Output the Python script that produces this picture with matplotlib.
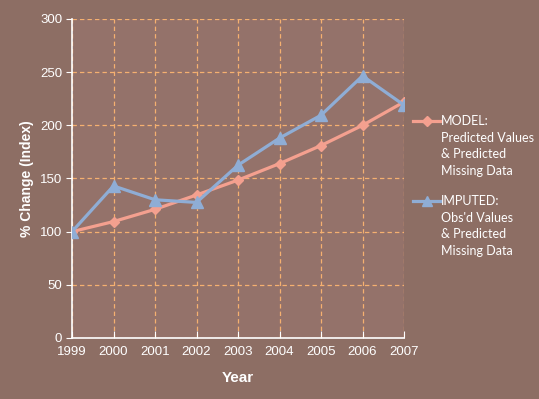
import matplotlib.pyplot as plt
from matplotlib.lines import Line2D

# datos
anios = [1999, 2000, 2001, 2002, 2003, 2004, 2005, 2006, 2007]
modelo = [100, 109.5, 121, 134.5, 148.5, 164, 181, 200, 222]
imputado = [100, 143, 130, 127.5, 162.5, 188, 209.5, 246.5, 219]
etiqueta_modelo = ["MODEL:", "Predicted Values", "& Predicted", "Missing Data"]
etiqueta_imputado = ["IMPUTED:", "Obs'd Values", "& Predicted", "Missing Data"]

fondo = '#8D6E64'
fondo_ejes = '#94726A'
col_modelo = '#F4A08F'
col_imputado = '#8FADD5'
col_rejilla = '#F5B070'

W, H = 539, 399
fig = plt.figure(figsize=(W / 100, H / 100), dpi=100, facecolor=fondo)
ax = fig.add_axes([72 / W, (H - 338) / H, (404 - 72) / W, (338 - 19) / H])
ax.set_facecolor(fondo_ejes)

ax.plot(anios, modelo, color=col_modelo, lw=2.3, marker='D', ms=5.5, zorder=3)
ax.plot(anios, imputado, color=col_imputado, lw=2.3, marker='^', ms=8, zorder=4)

ax.set_xlim(1999, 2007)
ax.set_ylim(0, 300)
ax.set_xticks(anios)
ax.set_yticks(range(0, 301, 50))
ax.grid(True, color=col_rejilla, ls=(0, (3.5, 2.5)), lw=0.9)
ax.set_axisbelow(True)

for s in ['top', 'right']:
    ax.spines[s].set_visible(False)
for s in ['left', 'bottom']:
    ax.spines[s].set_color('white')
    ax.spines[s].set_linewidth(1.2)

fuente = 'Liberation Sans'
ax.tick_params(axis='x', direction='in', length=5, color='white', colors='white', pad=6)
ax.tick_params(axis='y', direction='out', length=4, color='white', colors='white', pad=3)
for t in ax.get_xticklabels() + ax.get_yticklabels():
    t.set_fontfamily(fuente)
    t.set_fontsize(9.5)
    t.set_color('white')

ax.set_xlabel('Year', fontfamily=fuente, fontsize=11, fontweight='bold', color='white', labelpad=9)
ax.set_ylabel('% Change (Index)', fontfamily=fuente, fontsize=10, fontweight='bold', color='white', labelpad=4)

# leyenda a mano
def entrada(y0, lineas, color, marcador, tam):
    fig.add_artist(Line2D([413 / W, 440 / W], [(H - y0) / H] * 2, color=color, lw=2.3,
                          transform=fig.transFigure))
    fig.add_artist(Line2D([426.5 / W], [(H - y0) / H], color=color, marker=marcador, ms=tam,
                          transform=fig.transFigure))
    for i, txt in enumerate(lineas):
        fig.text(441 / W, (H - y0 - i * 16.7) / H, txt, color='white', fontsize=9,
                 fontfamily='Lato', va='center', ha='left')

entrada(121, etiqueta_modelo, col_modelo, 'D', 5)
entrada(201, etiqueta_imputado, col_imputado, '^', 7)

fig.savefig('out.png', dpi=100, facecolor=fondo)
